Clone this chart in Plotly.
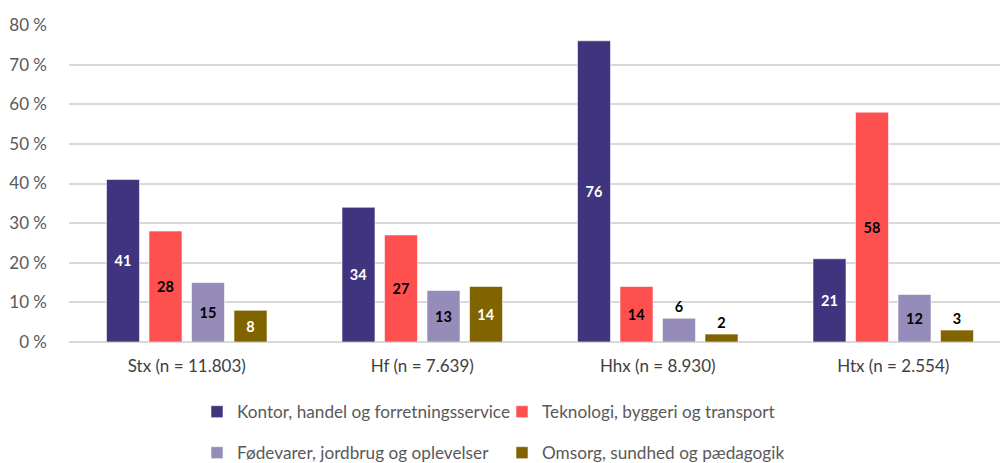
import plotly.graph_objects as go

categories = ["Stx (n = 11.803)", "Hf (n = 7.639)", "Hhx (n = 8.930)", "Htx (n = 2.554)"]
series_names = [
    "Kontor, handel og forretningsservice",
    "Teknologi, byggeri og transport",
    "Fødevarer, jordbrug og oplevelser",
    "Omsorg, sundhed og pædagogik",
]
kontor = [41, 34, 76, 21]
teknologi = [28, 27, 14, 58]
fodevarer = [15, 13, 6, 12]
omsorg = [8, 14, 2, 3]
y_ticks = [0, 10, 20, 30, 40, 50, 60, 70, 80]
y_tick_labels = ["0 %", "10 %", "20 %", "30 %", "40 %", "50 %", "60 %", "70 %", "80 %"]

series_values = [kontor, teknologi, fodevarer, omsorg]
colors = ["#41347F", "#FF5050", "#968CBA", "#7F6400"]
label_colors = ["white", "black", "black", "white"]
# label placement (style): small bars get their label above the bar
positions = [
    ["inside"] * 4,
    ["inside"] * 4,
    ["inside", "inside", "outside", "inside"],
    ["inside", "inside", "outside", "outside"],
]
legend_ids = ["legend", "legend", "legend2", "legend2"]

FONT = "Lato"
fig = go.Figure()
for i, name in enumerate(series_names):
    vals = series_values[i]
    tcolors = [label_colors[i] if p == "inside" else "black" for p in positions[i]]
    fig.add_trace(go.Bar(
        x=categories, y=vals, name=name,
        marker=dict(color=colors[i], line=dict(color="rgba(255,255,255,0.55)", width=1)),
        text=[str(v) for v in vals],
        textposition=positions[i],
        insidetextanchor="middle",
        textangle=0,
        constraintext="none",
        textfont=dict(family=FONT, size=14.5, color=tcolors, weight="bold"),
        legend=legend_ids[i],
        hoverinfo="skip",
    ))

W, H = 1000, 463
ml, mr, mt, mb = 69, 0, 25, 121
pw = W - ml - mr
ph = H - mt - mb
cat_w = 235.5
right = (pw / cat_w) - 0.5

fig.update_layout(
    width=W, height=H,
    margin=dict(l=ml, r=mr, t=mt, b=mb, pad=0, autoexpand=False),
    paper_bgcolor="white", plot_bgcolor="white",
    barmode="group", bargap=0.278, bargroupgap=0.224,
    font=dict(family=FONT, size=17, color="#595959"),
    showlegend=True,
    xaxis=dict(
        range=[-0.5, right], showgrid=False, showline=False, zeroline=False,
        ticks="", tickfont=dict(family=FONT, size=17, color="#404040"),
        ticklabelstandoff=12, automargin=False,
    ),
    yaxis=dict(
        range=[0, 80], tickmode="array", tickvals=y_ticks, ticktext=y_tick_labels,
        showgrid=True, gridcolor="#D9D9D9", gridwidth=2,
        zeroline=True, zerolinecolor="#D9D9D9", zerolinewidth=2,
        showline=False, ticks="",
        tickfont=dict(family=FONT, size=17, color="#595959"),
        ticklabelstandoff=21, automargin=False,
    ),
    legend=dict(
        orientation="h", x=(197 - ml) / pw, xanchor="left",
        y=-(412 - 342) / ph, yanchor="middle",
        entrywidth=260, entrywidthmode="pixels",
        font=dict(family=FONT, size=17.2, color="#595959"),
        bgcolor="rgba(0,0,0,0)", traceorder="normal",
    ),
    legend2=dict(
        orientation="h", x=(197 - ml) / pw, xanchor="left",
        y=-(453 - 342) / ph, yanchor="middle",
        entrywidth=260, entrywidthmode="pixels",
        font=dict(family=FONT, size=17.2, color="#595959"),
        bgcolor="rgba(0,0,0,0)", traceorder="normal",
    ),
)

fig.write_html(
    "out.html",
    config={"displayModeBar": False},
    post_script="document.body.style.margin='0';document.body.style.overflow='hidden';",
)
